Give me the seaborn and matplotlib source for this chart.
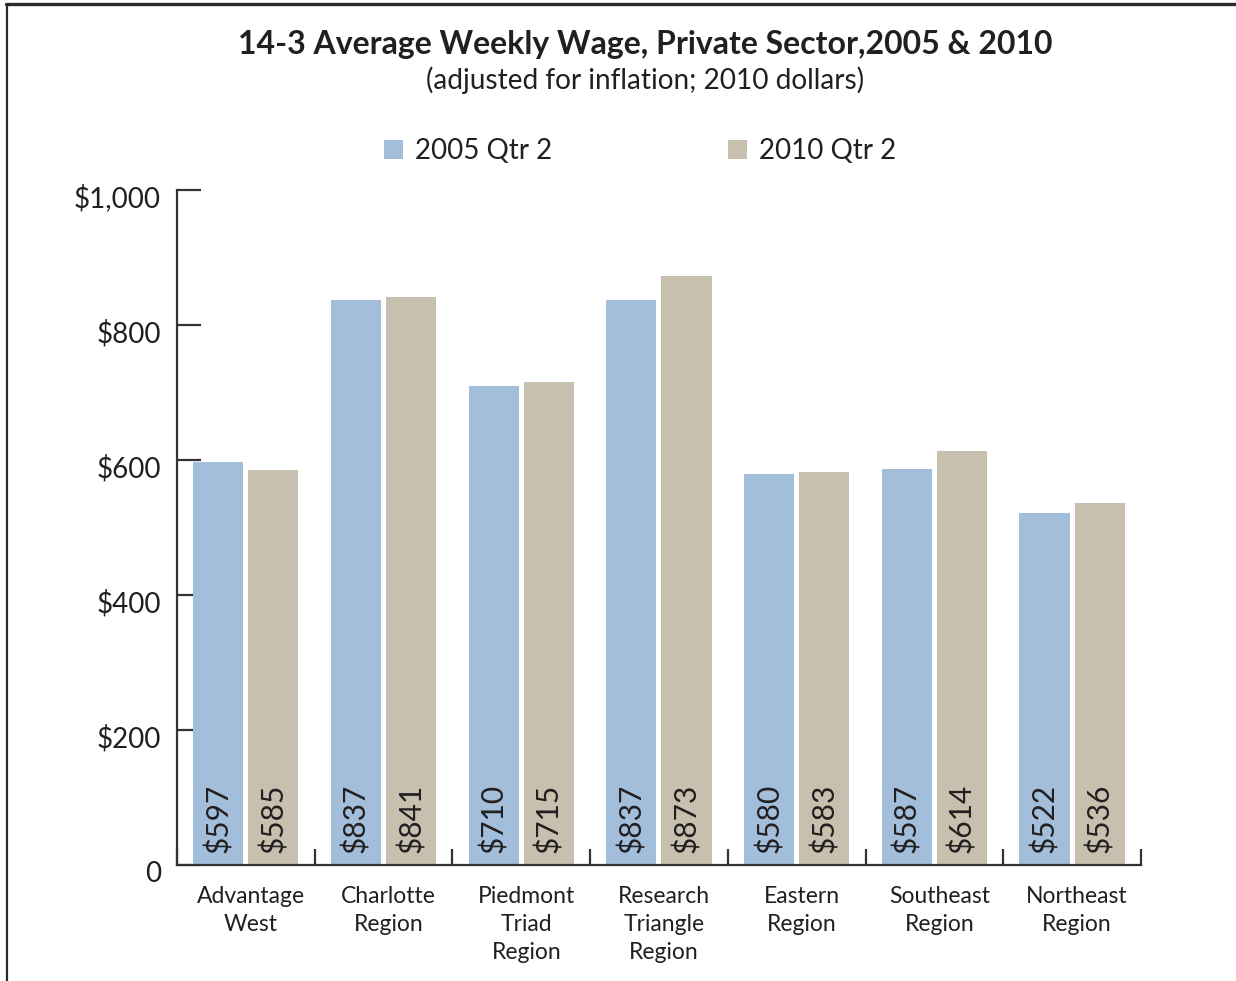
import numpy as np
import pandas as pd
import seaborn as sns
import matplotlib.pyplot as plt
from matplotlib.lines import Line2D
from matplotlib.ticker import FixedLocator
from matplotlib.transforms import ScaledTranslation

regions = ['Advantage\nWest', 'Charlotte\nRegion', 'Piedmont\nTriad\nRegion',
           'Research\nTriangle\nRegion', 'Eastern\nRegion', 'Southeast\nRegion',
           'Northeast\nRegion']
wage_2005 = [597, 837, 710, 837, 580, 587, 522]
wage_2010 = [585, 841, 715, 873, 583, 614, 536]
series = ['2005 Qtr 2', '2010 Qtr 2']
y_ticks = [0, 200, 400, 600, 800, 1000]
y_tick_labels = ['0', '$200', '$400', '$600', '$800', '$1,000']

df = pd.DataFrame({
    'region': regions * 2,
    'wage': wage_2005 + wage_2010,
    'period': [series[0]] * len(regions) + [series[1]] * len(regions),
})

sns.set_style('white')
plt.rcParams['font.family'] = ['Lato', 'DejaVu Sans']
ink = '#231f20'
line_col = '#333333'

fig = plt.figure(figsize=(12.36, 9.81), dpi=100)
ax = fig.add_axes([0.1432, 0.1182, 0.7799, 0.6881])

palette = {'2005 Qtr 2': '#a2bedb', '2010 Qtr 2': '#c8c0ae'}
sns.barplot(data=df, x='region', y='wage', hue='period', palette=palette,
            width=0.8, gap=0.09, saturation=1, linewidth=0, ax=ax)

# value labels, rotated, sitting at the bottom of each bar
for cont in ax.containers:
    for patch, val in zip(cont.patches, cont.datavalues):
        ax.annotate(f'${val:.0f}', xy=(patch.get_x() + patch.get_width() / 2, 0),
                    xytext=(0, 8.5), textcoords='offset points', rotation=90,
                    ha='center', va='bottom', fontsize=21.5, color=ink)

ax.set_xlim(-0.5, len(regions) - 0.5)
ax.set_ylim(0, 1000)
ax.set_yticks(y_ticks)
ax.set_yticklabels(y_tick_labels)
ax.set_xlabel('')
ax.set_ylabel('')

for s in ['top', 'right']:
    ax.spines[s].set_visible(False)
for s in ['left', 'bottom']:
    ax.spines[s].set_color(line_col)
    ax.spines[s].set_linewidth(1.6)

ax.tick_params(axis='y', direction='in', length=17, width=1.6, color=line_col,
               pad=11.5, labelsize=20, labelcolor=ink, left=True)
ax.tick_params(axis='x', which='major', length=0, pad=15, labelsize=16.5,
               labelcolor=ink)
ax.xaxis.set_minor_locator(FixedLocator(np.arange(-0.5, len(regions), 1.0)))
ax.tick_params(axis='x', which='minor', direction='in', length=11.5, width=1.6,
               color=line_col, bottom=True)

x_shift = ScaledTranslation(5 / 100, 0, fig.dpi_scale_trans)
for lbl in ax.get_xticklabels():
    lbl.set_linespacing(1.42)
    lbl.set_transform(lbl.get_transform() + x_shift)
y_shift = ScaledTranslation(0, -6 / 100, fig.dpi_scale_trans)
for lbl in ax.get_yticklabels():
    lbl.set_transform(lbl.get_transform() + y_shift)

handles, labels = ax.get_legend_handles_labels()
ax.legend_.remove()
fig.legend(handles, labels, loc='center', bbox_to_anchor=(0.518, 0.846),
           ncol=2, frameon=False, fontsize=20, handlelength=0.68,
           handleheight=0.68, handletextpad=0.43, columnspacing=6.35,
           labelcolor=ink)

fig.text(0.522, 0.955, '14-3 Average Weekly Wage, Private Sector,2005 & 2010',
         ha='center', va='center', fontsize=23, fontweight='bold', color=ink)
fig.text(0.522, 0.9185, '(adjusted for inflation; 2010 dollars)',
         ha='center', va='center', fontsize=20.2, color=ink)

# outer frame of the graphic
fig.add_artist(Line2D([0.0057, 0.0057], [0, 0.996], color='#2b2b2b', lw=1.6,
                      transform=fig.transFigure))
fig.add_artist(Line2D([0.0049, 1], [0.996, 0.996], color='#2b2b2b', lw=2.4,
                      transform=fig.transFigure))

fig.savefig('out.png', dpi=100)
